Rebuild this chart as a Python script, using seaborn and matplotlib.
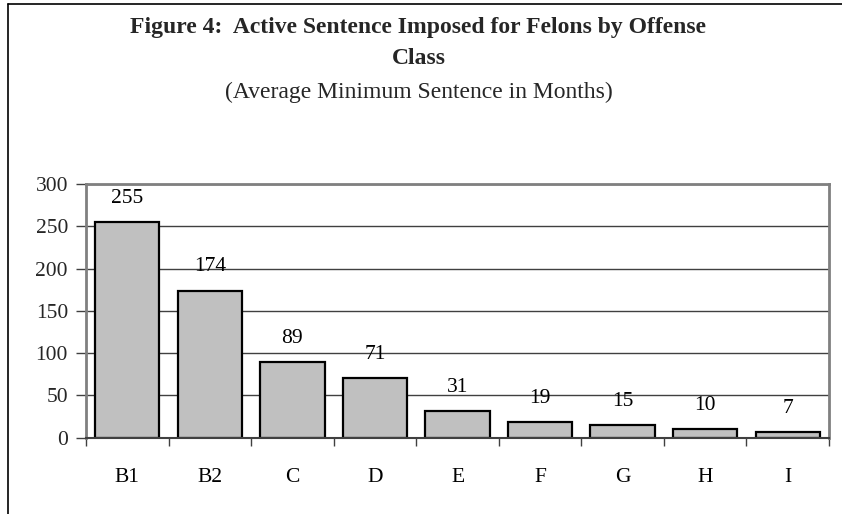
import matplotlib
matplotlib.use("Agg")
import matplotlib.pyplot as plt
import seaborn as sns
import pandas as pd
import numpy as np
from matplotlib.lines import Line2D

categories = ["B1", "B2", "C", "D", "E", "F", "G", "H", "I"]
values = [255, 174, 89, 71, 31, 19, 15, 10, 7]
yticks = [0, 50, 100, 150, 200, 250, 300]

sns.set_theme(style="white")
plt.rcParams['font.family'] = ['Liberation Serif', 'DejaVu Serif']

df = pd.DataFrame({"cls": categories, "val": values})

fig = plt.figure(figsize=(8.42, 5.14), dpi=100)
ax = fig.add_axes([86/842, 1-437.7/514, (829-86)/842, (437.7-184)/514])

sns.barplot(data=df, x="cls", y="val", ax=ax, color="#C0C0C0",
            edgecolor="black", linewidth=1.6, width=0.78, saturation=1)

FS = 15.5
ax.set_ylim(0, 300)
ax.set_xlim(-0.5, len(categories) - 0.5)
ax.set_yticks(yticks)
ax.set_yticklabels([str(t) for t in yticks], fontsize=FS)
ax.set_xticks(range(len(categories)))
ax.set_xticklabels(categories, fontsize=FS)
ax.set_xticks(np.arange(-0.5, len(categories), 1.0), minor=True)
ax.tick_params(axis='x', which='major', length=0, pad=22, colors='black')
ax.tick_params(axis='x', which='minor', length=6, width=1, color='#404040', direction='out', bottom=True)
ax.tick_params(axis='y', which='major', length=7, width=1, color='#404040', direction='out', left=True, pad=6)
ax.set_xlabel("")
ax.set_ylabel("")

ax.yaxis.grid(True, color="#404040", linewidth=1)
ax.set_axisbelow(True)
for s in ["top", "right"]:
    ax.spines[s].set_visible(True)
    ax.spines[s].set_color("#808080")
    ax.spines[s].set_linewidth(2)
ax.spines["left"].set_color("#808080")
ax.spines["left"].set_linewidth(2)
ax.spines["bottom"].set_color("#404040")
ax.spines["bottom"].set_linewidth(1.5)

for i, v in enumerate(values):
    ax.annotate(str(v), (i, v), xytext=(0, 17), textcoords="offset points",
                ha="center", va="center", fontsize=FS, color="black")

fig.text(0.497, 1-27/514, "Figure 4:  Active Sentence Imposed for Felons by Offense",
         ha="center", va="center", fontsize=17, fontweight="bold")
fig.text(0.497, 1-59/514, "Class", ha="center", va="center", fontsize=17, fontweight="bold")
fig.text(0.497, 1-92/514, "(Average Minimum Sentence in Months)", ha="center", va="center", fontsize=17)

# figure border (left and top visible)
fig.add_artist(Line2D([8/842, 8/842], [0, 1-4/514], transform=fig.transFigure, color="black", linewidth=1.2))
fig.add_artist(Line2D([8/842, 1], [1-4/514, 1-4/514], transform=fig.transFigure, color="black", linewidth=1.2))

fig.savefig("out.png", dpi=100, facecolor="white")
